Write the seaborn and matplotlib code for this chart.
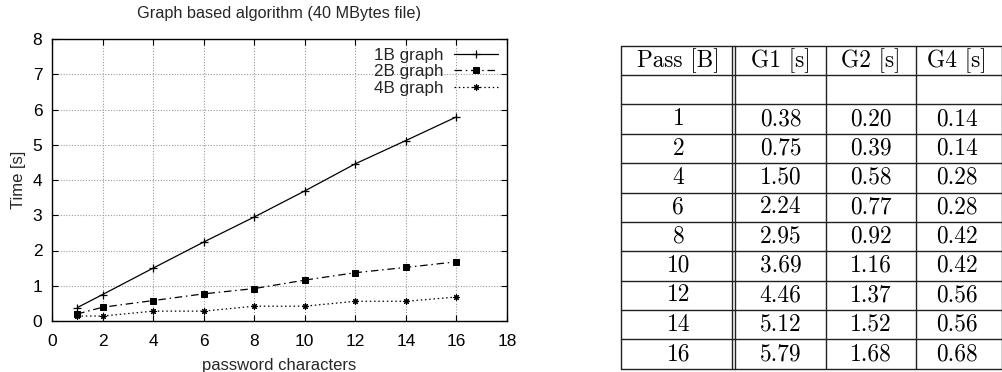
import matplotlib
matplotlib.use("Agg")
import matplotlib.pyplot as plt
import seaborn as sns
import pandas as pd

# ---- data ----
pass_chars = [1, 2, 4, 6, 8, 10, 12, 14, 16]
g1_times = [0.38, 0.75, 1.50, 2.24, 2.95, 3.69, 4.46, 5.12, 5.79]
g2_times = [0.20, 0.39, 0.58, 0.77, 0.92, 1.16, 1.37, 1.52, 1.68]
g4_times = [0.14, 0.14, 0.28, 0.28, 0.42, 0.42, 0.56, 0.56, 0.68]
series_labels = ["1B graph", "2B graph", "4B graph"]
table_headers = ["Pass [B]", "G1 [s]", "G2 [s]", "G4 [s]"]
x_ticks = [0, 2, 4, 6, 8, 10, 12, 14, 16, 18]
y_ticks = [0, 1, 2, 3, 4, 5, 6, 7, 8]
title = "Graph based algorithm (40 MBytes file)"
xlabel = "password characters"
ylabel = "Time [s]"

sns.set_theme(style="white")
plt.rcParams["font.family"] = ["Liberation Sans", "DejaVu Sans"]

fig = plt.figure(figsize=(10.03, 3.72), dpi=100)
W, H = 1003, 372

ax = fig.add_axes([52 / W, 1 - 321 / H, (507 - 52) / W, (321 - 39) / H])

styles = [
    dict(marker="+", markersize=5.5, linestyle="-", markeredgewidth=0.9),
    dict(marker="s", markersize=4.5, linestyle=(0, (6, 3, 1.2, 3))),
    dict(marker=(8, 2, 0), markersize=4.5, linestyle=(0, (1.2, 2.2)), markeredgewidth=0.8),
]
for vals, lab, st in zip([g1_times, g2_times, g4_times], series_labels, styles):
    df = pd.DataFrame({"x": pass_chars, "y": vals})
    sns.lineplot(data=df, x="x", y="y", ax=ax, color="black", linewidth=0.9,
                 label=lab, markeredgecolor="black", markerfacecolor="black", **st)

ax.set_xlim(0, 18)
ax.set_ylim(0, 8)
ax.set_xticks(x_ticks)
ax.set_yticks(y_ticks)
ax.grid(True, color="#9a9a9a", linestyle=(0, (1, 1.5)), linewidth=0.8)
for s in ax.spines.values():
    s.set_color("black")
    s.set_linewidth(1.0)
ax.tick_params(direction="in", length=4, width=0.8, top=True, right=True,
               bottom=True, left=True, labelsize=12.5, colors="black")
ax.tick_params(axis="x", pad=9)
ax.tick_params(axis="y", pad=7)
ax.set_xlabel(xlabel, fontsize=12, labelpad=7)
ax.set_ylabel(ylabel, fontsize=12, labelpad=5)
ax.set_title(title, fontsize=11.7, pad=15)

leg = ax.legend(loc="upper right", frameon=False, markerfirst=False, fontsize=12.3,
                handlelength=2.6, handletextpad=0.6, labelspacing=0.08,
                borderaxespad=0.12, alignment="right")

# ---- table ----
tl, tr, tt, tb = 620.7, 1001.5, 45.7, 368.7
tax = fig.add_axes([tl / W, 1 - tb / H, (tr - tl) / W, (tb - tt) / H])
tax.set_axis_off()
nrows = 2 + len(pass_chars)
width = tr - tl
tax.set_xlim(0, width)
tax.set_ylim(nrows, 0)
col_edges = [0, 111.3, 205.3, 294.9, width]
lc = "#222222"
for i in range(nrows + 1):
    tax.plot([0, width], [i, i], color=lc, linewidth=1.0, clip_on=False)
for xe in col_edges:
    tax.plot([xe, xe], [0, nrows], color=lc, linewidth=1.0, clip_on=False)
tax.plot([114.6, 114.6], [0, nrows], color=lc, linewidth=1.0, clip_on=False)

centers = [(col_edges[0] + col_edges[1]) / 2 + 2,
           (114.6 + col_edges[2]) / 2,
           (col_edges[2] + col_edges[3]) / 2,
           (col_edges[3] + col_edges[4]) / 2 - 2]
tfont = dict(fontfamily="cmr10", fontsize=16.8, ha="center", va="center", color="black")
for c, h in zip(centers, table_headers):
    tax.text(c, 0.5, h, **tfont)
for r, (p, a, b, d) in enumerate(zip(pass_chars, g1_times, g2_times, g4_times)):
    y = 2.5 + r
    tax.text(centers[0], y, f"{p}", **tfont)
    tax.text(centers[1], y, f"{a:.2f}", **tfont)
    tax.text(centers[2], y, f"{b:.2f}", **tfont)
    tax.text(centers[3], y, f"{d:.2f}", **tfont)

fig.savefig("out.png", dpi=100)
